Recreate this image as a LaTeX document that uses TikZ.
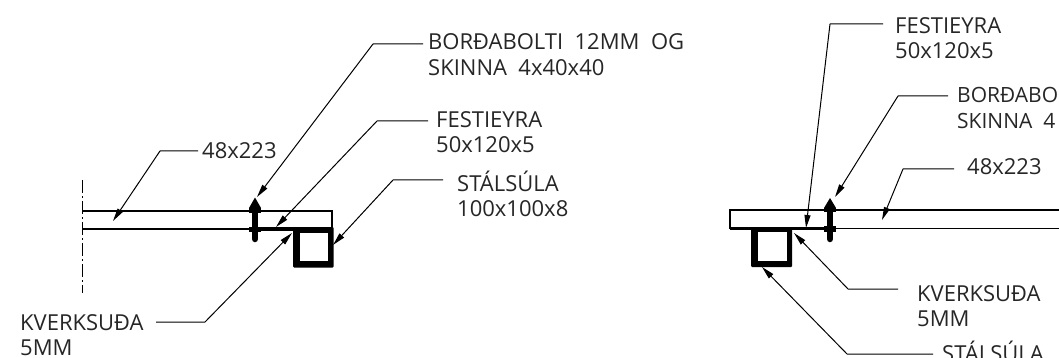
\documentclass[tikz,border=0pt]{standalone}
\usepackage{fontspec}
\setmainfont{Open Sans}
\usetikzlibrary{arrows.meta}
\tikzset{
  x=1pt,y=-1pt,
  lbl/.style={anchor=west,inner sep=0pt,font=\fontsize{22}{25.5}\selectfont,align=left,text=black!85},
  lblnarrow/.style={anchor=west,inner sep=0pt,font=\fontsize{21}{25.5}\selectfont,align=left,text=black!85},
  lead/.style={draw=black,line width=1pt,line join=round,-{Stealth[length=13pt,width=6pt,inset=0pt]}},
  beam/.style={draw=black,line width=1.6pt},
  heavy/.style={draw=black,line width=3.2pt},
  bolt/.style={draw=black,line width=6.5pt,line cap=round},
  boltend/.style={fill=black,draw=none},
  sqr/.style={fill=black,draw=none,rounded corners=1pt},
  hole/.style={fill=white,draw=none},
  axis/.style={draw=black,line width=0.9pt,dash pattern=on 13pt off 3pt on 2pt off 3pt}
}
\begin{document}
\begin{tikzpicture}
\useasboundingbox (0,0) rectangle (1059,358);
% ---- left detail
\coordinate (axT) at (82,180); \coordinate (axB) at (82,293);
\draw[axis] (axT) -- (axB);
\coordinate (lbT0) at (82,211); \coordinate (lbT1) at (332,211);
\coordinate (lbR) at (332,228.5); \coordinate (lbB0) at (82,229);
\draw[beam] (lbT0) -- (lbT1) -- (lbR);
\draw[beam] (lbB0) -- (255,229);
\draw[heavy] (250,229) -- (297,229);
\fill[sqr] (293,227) rectangle (333.5,267.5);
\fill[hole] (300,233) rectangle (328,260.5);
\draw[bolt] (255,205) -- (255,239);
\fill[boltend] (255,197.5) -- (261,208) -- (249,208) -- cycle;
\fill[boltend] (249,207.5) rectangle (261,212.5);
\fill[boltend] (249,226.5) rectangle (261,232);
% ---- right detail
\coordinate (rbTL) at (730,210); \coordinate (rbBL) at (730,228.5);
\coordinate (rbTR) at (1059,210); \coordinate (rbBR) at (1059,228.5);
\draw[beam] (rbTR) -- (rbTL) -- (rbBL);
\draw[beam] (rbBL) -- (rbBR);
\draw[heavy] (730,228.5) -- (835,228.5);
\fill[sqr] (751,227) rectangle (792,267);
\fill[hole] (758,232) rectangle (787,261);
\draw[bolt] (830,205) -- (830,239);
\fill[boltend] (830,198) -- (836,208) -- (824,208) -- cycle;
\fill[boltend] (824,207.5) rectangle (836,212);
\fill[boltend] (824,226) rectangle (836,231.5);
% ---- labels, left
\node[lbl] (a1) at (428,54.5) {BORÐABOLTI\ \ 12MM\ \ OG\\SKINNA\ \ 4x40x40};
\node[lbl] (a2) at (436,132) {FESTIEYRA\\50x120x5};
\node[lbl] (a3) at (457,194) {STÁLSÚLA\\100x100x8};
\node[lbl] (a4) at (202,151) {48x223};
\node[lbl] (a5) at (20,335) {KVERKSUÐA\\5MM};
% ---- labels, right
\node[lbl] (b1) at (895,38) {FESTIEYRA\\50x120x5};
\node[lblnarrow] (b2) at (957,108) {BORÐABO\\SKINNA\ \ 4};
\node[lbl] (b3) at (967,167) {48x223};
\node[lbl] (b4) at (917,306) {KVERKSUÐA\\5MM};
\node[lbl,anchor=base west] (b5) at (942,361) {STÁLSÚLA};
% ---- leaders, left
\coordinate (a1e) at (423,44); \coordinate (a1c) at (373,44); \coordinate (a1t) at (257,197);
\coordinate (a2e) at (428,121); \coordinate (a2c) at (377,121); \coordinate (a2t) at (276,227);
\coordinate (a3e) at (443,180); \coordinate (a3c) at (393,180); \coordinate (a3t) at (333,245);
\coordinate (a4e) at (198,151); \coordinate (a4c) at (160,151); \coordinate (a4t) at (113,221);
\coordinate (a5e) at (156,322); \coordinate (a5c) at (205,322); \coordinate (a5t) at (292,233);
\draw[lead] (a1e) -- (a1c) -- (a1t);
\draw[lead] (a2e) -- (a2c) -- (a2t);
\draw[lead] (a3e) -- (a3c) -- (a3t);
\draw[lead] (a4e) -- (a4c) -- (a4t);
\draw[lead] (a5e) -- (a5c) -- (a5t);
% ---- leaders, right
\coordinate (b1e) at (883,24); \coordinate (b1c) at (830,24); \coordinate (b1t) at (806,228);
\coordinate (b2e) at (948,96); \coordinate (b2c) at (898,96); \coordinate (b2t) at (835,197);
\coordinate (b3e) at (954,169); \coordinate (b3c) at (903,169); \coordinate (b3t) at (882,220);
\coordinate (b4e) at (898,289); \coordinate (b4c) at (848,289); \coordinate (b4t) at (794,233);
\coordinate (b5e) at (933,354); \coordinate (b5c) at (847,354); \coordinate (b5t) at (762,267);
\draw[lead] (b1e) -- (b1c) -- (b1t);
\draw[lead] (b2e) -- (b2c) -- (b2t);
\draw[lead] (b3e) -- (b3c) -- (b3t);
\draw[lead] (b4e) -- (b4c) -- (b4t);
\draw[lead] (b5e) -- (b5c) -- (b5t);
\end{tikzpicture}
\end{document}
